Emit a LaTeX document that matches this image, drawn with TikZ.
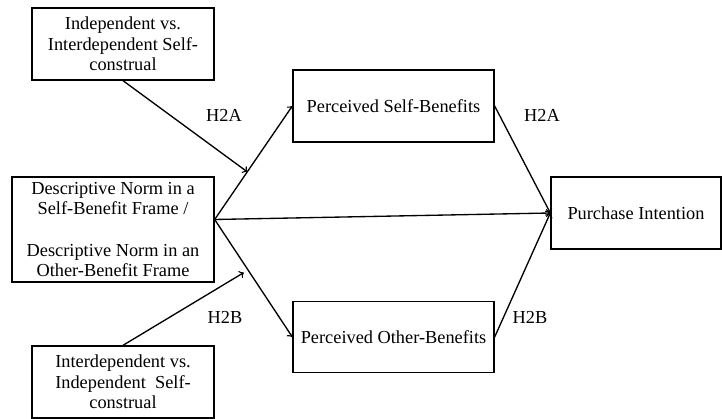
\documentclass[tikz,border=0pt]{standalone}
\usepackage{fontspec}
\setmainfont{Liberation Serif}
\usetikzlibrary{calc, positioning}

\begin{document}
\begin{tikzpicture}[x=0.6pt, y=-0.6pt,
    var/.style={draw, line width=0.8pt, align=center, inner sep=2pt, font=\fontsize{11}{12.4}\selectfont},
    path/.style={->, line width=0.8pt},
    hyp/.style={font=\fontsize{11}{12.4}\selectfont}]
    \useasboundingbox (0,0) rectangle (722,419);

    % Moderator boxes
    \node[var, minimum width=109.2pt, minimum height=43.2pt] (modA) at (123,44) {Independent vs.\\Interdependent Self-\\construal};
    \node[var, minimum width=109.2pt, minimum height=43.2pt] (modB) at (123,382) {Interdependent vs.\\Independent\ \ Self-\\construal};

    % Norm box
    \node[var, minimum width=121.2pt, minimum height=63pt] (norm) at (113,229.5) {Descriptive Norm in a\\Self-Benefit Frame /\\[\baselineskip]Descriptive Norm in an\\Other-Benefit Frame};

    % Mediator boxes
    \node[var, minimum width=120.6pt, minimum height=43.2pt] (selfben) at (393.5,106) {Perceived Self-Benefits};
    \node[var, minimum width=120.6pt, minimum height=42.6pt] (otherben) at (393.5,337) {Perceived Other-Benefits};

    % Outcome box
    \node[var, minimum width=102pt, minimum height=43.2pt] (intent) at (636,213) {Purchase Intention};

    % Paths from the norm
    \coordinate (hub) at ($(norm.east)+(0,-10)$);
    \draw[path] (hub) -- (selfben.west);
    \draw[path] (hub) -- (otherben.west);
    \draw[path] (hub) -- (intent.west);

    % Paths to the outcome
    \draw[path] (selfben.east) -- (intent.west);
    \draw[path] (otherben.east) -- (intent.west);

    % Moderation arrows
    \coordinate (onA) at ($(hub)!0.42!(selfben.west)$);
    \coordinate (onB) at ($(hub)!0.43!(otherben.west)$);
    \draw[path] (modA.south) -- (onA);
    \draw[path, shorten >=3pt] (modB.north) -- (onB);

    % Hypothesis labels
    \node[hyp] (hAl) at (224,115) {H2A};
    \node[hyp] (hBl) at (225,317) {H2B};
    \node[hyp] (hAr) at (542,115) {H2A};
    \node[hyp] (hBr) at (530,317) {H2B};
\end{tikzpicture}
\end{document}
